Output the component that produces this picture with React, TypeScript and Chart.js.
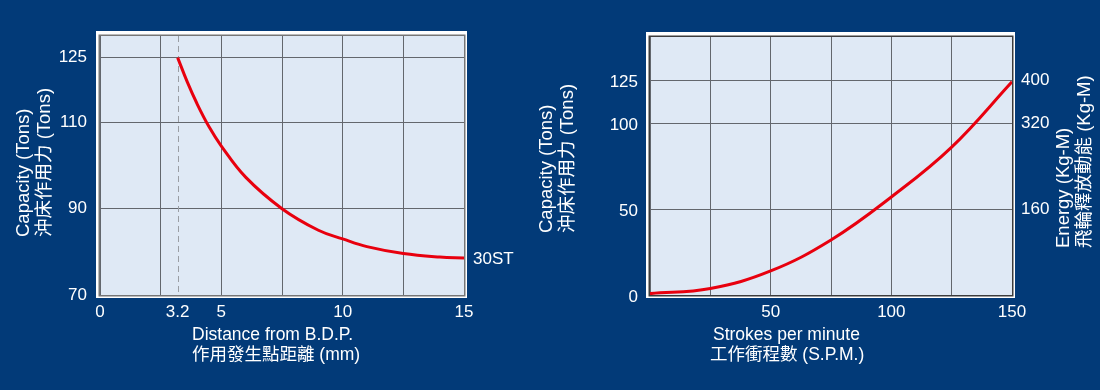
import React, { useEffect, useRef } from 'react';
import { Chart, registerables } from 'chart.js';
Chart.register(...registerables);

// ---------- data: left chart (capacity vs distance from B.D.P.) ----------
const distanceMm = [3.2, 3.6, 4, 4.5, 5, 6, 7.5, 9, 10, 11, 12.5, 14, 15];
const capacityByDistance = [125, 119.3, 114.3, 108.9, 104.5, 97.3, 90, 85, 83, 81.2, 79.6, 78.8, 78.6];
const leftXGridValues = [0, 2.5, 3.2, 5, 7.5, 10, 12.5, 15];
const leftXTickLabels = [0, 3.2, 5, 10, 15];
const leftYTicks = [70, 90, 110, 125];
const ratedPoint = 3.2;
const modelLabel = '30ST';

// ---------- data: right chart (capacity / energy vs strokes per minute) ----------
const strokesPerMinute = [0, 25, 50, 75, 100, 125, 150];
const capacityBySpm = [0.8, 3.8, 14, 32, 57, 86, 124];
const rightXGridValues = [0, 25, 50, 75, 100, 125, 150];
const rightXTickLabels = [50, 100, 150];
const rightYTicks = [0, 50, 100, 125];
const energyTicks = [160, 320, 400];
const energyPerTon = 3.2; // 125 Tons <-> 400 Kg-M

// ---------- text ----------
const leftYTitle = ['Capacity (Tons)', '沖床作用力 (Tons)'];
const leftXTitle = ['Distance from B.D.P.', '作用發生點距離 (mm)'];
const rightYTitle = ['Capacity (Tons)', '沖床作用力 (Tons)'];
const rightY2Title = ['Energy (Kg-M)', '飛輪釋放動能 (Kg-M)'];
const rightXTitle = ['Strokes per minute', '工作衝程數 (S.P.M.)'];

// ---------- style ----------
const BG = '#023a78';
const PLOT_BG = '#dfe9f5';
const GRID = '#63676d';
const RED = '#e8000e';
const WHITE = '#ffffff';
const FONT = "'Liberation Sans', Arial, 'Noto Sans CJK TC', sans-serif";
const FONT_SIZE = 17;
const X_TITLE_SIZE = 17.5;
const Y_TITLE_SIZE = 18.5;

type TextItem = { t: string; x: number; y: number; rot?: boolean };

const decorPlugin = {
  id: 'decor',
  beforeDraw(chart: any) {
    const { ctx, chartArea: a } = chart;
    ctx.save();
    ctx.fillStyle = WHITE;
    ctx.fillRect(a.left - 4, a.top - 5, a.right - a.left + 7, a.bottom - a.top + 8);
    ctx.fillStyle = PLOT_BG;
    ctx.fillRect(a.left, a.top, a.right - a.left, a.bottom - a.top);
    ctx.restore();
  },
  beforeDatasetsDraw(chart: any, _args: any, o: any) {
    const { ctx, chartArea: a } = chart;
    ctx.save();
    if (o.dashX != null) {
      const px = chart.scales.x.getPixelForValue(o.dashX);
      ctx.strokeStyle = '#9a9ea4';
      ctx.lineWidth = 1;
      ctx.setLineDash([6, 4]);
      ctx.beginPath();
      ctx.moveTo(Math.round(px) + 0.5, a.top);
      ctx.lineTo(Math.round(px) + 0.5, a.bottom);
      ctx.stroke();
      ctx.setLineDash([]);
    }
    ctx.strokeStyle = o.borderColor;
    ctx.lineWidth = 1.5;
    ctx.strokeRect(a.left - 0.75, a.top - 0.75, a.right - a.left + 1.5, a.bottom - a.top + 1.5);
    ctx.restore();
  },
  afterDraw(chart: any, _args: any, o: any) {
    const { ctx } = chart;
    ctx.save();
    ctx.fillStyle = WHITE;
    ctx.textAlign = 'left';
    ctx.textBaseline = 'middle';
    (o.texts as TextItem[]).forEach((it) => {
      if (it.rot) {
        ctx.font = `${Y_TITLE_SIZE}px ${FONT}`;
        ctx.save();
        ctx.translate(it.x, it.y);
        ctx.rotate(-Math.PI / 2);
        ctx.fillText(it.t, 0, 0);
        ctx.restore();
      } else {
        ctx.font = `${X_TITLE_SIZE}px ${FONT}`;
        ctx.fillText(it.t, it.x, it.y);
      }
    });
    if (o.endLabel) {
      ctx.font = `${FONT_SIZE}px ${FONT}`;
      const ds = chart.data.datasets[0].data;
      const last = ds[ds.length - 1];
      const px = chart.scales.x.getPixelForValue(last.x);
      const py = chart.scales.y.getPixelForValue(last.y);
      ctx.fillText(o.endLabel, px + 9, py + 1);
    }
    ctx.restore();
  },
};

const tickFont = { family: FONT, size: FONT_SIZE };

function leftConfig(): any {
  return {
    type: 'line',
    data: {
      datasets: [
        {
          data: distanceMm.map((x, i) => ({ x, y: capacityByDistance[i] })),
          borderColor: RED,
          borderWidth: 3,
          pointRadius: 0,
          fill: false,
          tension: 0.4,
        },
      ],
    },
    options: {
      responsive: false,
      animation: false,
      devicePixelRatio: 1,
      layout: { padding: { left: 0, right: 56, top: 36, bottom: 0 } },
      plugins: {
        legend: { display: false },
        tooltip: { enabled: false },
        decor: {
          borderColor: '#767676',
          dashX: ratedPoint,
          endLabel: modelLabel,
          texts: [
            { t: leftYTitle[0], x: 23.5, y: 237, rot: true },
            { t: leftYTitle[1], x: 45, y: 237, rot: true },
            { t: leftXTitle[0], x: 192, y: 335 },
            { t: leftXTitle[1], x: 192, y: 355 },
          ],
        },
      },
      scales: {
        x: {
          type: 'linear',
          min: 0,
          max: 15,
          afterBuildTicks: (s: any) => {
            s.ticks = leftXGridValues.map((v) => ({ value: v }));
          },
          afterFit: (s: any) => {
            s.height = 95;
          },
          border: { display: false },
          grid: {
            color: (c: any) => (c.tick && c.tick.value === ratedPoint ? 'rgba(0,0,0,0)' : GRID),
            lineWidth: 1,
            drawTicks: false,
          },
          ticks: {
            color: WHITE,
            font: tickFont,
            padding: 7,
            autoSkip: false,
            maxRotation: 0,
            callback: (v: number) => (leftXTickLabels.includes(v) ? String(v) : ''),
          },
        },
        y: {
          type: 'linear',
          min: 70,
          max: 130,
          afterBuildTicks: (s: any) => {
            s.ticks = leftYTicks.map((v) => ({ value: v }));
          },
          afterFit: (s: any) => {
            s.width = 100;
          },
          border: { display: false },
          grid: { color: GRID, lineWidth: 1, drawTicks: false },
          ticks: {
            color: WHITE,
            font: tickFont,
            padding: 13,
            autoSkip: false,
            callback: (v: number) => String(v),
          },
        },
      },
    },
    plugins: [decorPlugin],
  };
}

function rightConfig(): any {
  return {
    type: 'line',
    data: {
      datasets: [
        {
          data: strokesPerMinute.map((x, i) => ({ x, y: capacityBySpm[i] })),
          borderColor: RED,
          borderWidth: 3,
          pointRadius: 0,
          fill: false,
          tension: 0.4,
          yAxisID: 'y',
        },
      ],
    },
    options: {
      responsive: false,
      animation: false,
      devicePixelRatio: 1,
      layout: { padding: { left: 0, right: 0, top: 37, bottom: 0 } },
      plugins: {
        legend: { display: false },
        tooltip: { enabled: false },
        decor: {
          borderColor: '#3c3c3c',
          texts: [
            { t: rightYTitle[0], x: 27, y: 233, rot: true },
            { t: rightYTitle[1], x: 48, y: 233, rot: true },
            { t: rightY2Title[0], x: 543.5, y: 248, rot: true },
            { t: rightY2Title[1], x: 564.5, y: 248, rot: true },
            { t: rightXTitle[0], x: 193, y: 335 },
            { t: rightXTitle[1], x: 190, y: 355 },
          ],
        },
      },
      scales: {
        x: {
          type: 'linear',
          min: 0,
          max: 150,
          afterBuildTicks: (s: any) => {
            s.ticks = rightXGridValues.map((v) => ({ value: v }));
          },
          afterFit: (s: any) => {
            s.height = 95;
          },
          border: { display: false },
          grid: { color: GRID, lineWidth: 1, drawTicks: false },
          ticks: {
            color: WHITE,
            font: tickFont,
            padding: 7,
            autoSkip: false,
            maxRotation: 0,
            callback: (v: number) => (rightXTickLabels.includes(v) ? String(v) : ''),
          },
        },
        y: {
          type: 'linear',
          position: 'left',
          min: 0,
          max: 150,
          afterBuildTicks: (s: any) => {
            s.ticks = rightYTicks.map((v) => ({ value: v }));
          },
          afterFit: (s: any) => {
            s.width = 130;
          },
          border: { display: false },
          grid: { color: GRID, lineWidth: 1, drawTicks: false },
          ticks: {
            color: WHITE,
            font: tickFont,
            padding: 12,
            labelOffset: 2,
            autoSkip: false,
            callback: (v: number) => String(v),
          },
        },
        y2: {
          type: 'linear',
          position: 'right',
          min: 0,
          max: 150 * energyPerTon,
          afterBuildTicks: (s: any) => {
            s.ticks = energyTicks.map((v) => ({ value: v }));
          },
          afterFit: (s: any) => {
            s.width = 88;
          },
          border: { display: false },
          grid: { drawOnChartArea: false, drawTicks: false },
          ticks: {
            color: WHITE,
            font: tickFont,
            padding: 9,
            autoSkip: false,
            callback: (v: number) => String(v),
          },
        },
      },
    },
    plugins: [decorPlugin],
  };
}

export default function App() {
  const leftRef = useRef<HTMLCanvasElement>(null);
  const rightRef = useRef<HTMLCanvasElement>(null);

  useEffect(() => {
    const c1 = new Chart(leftRef.current as HTMLCanvasElement, leftConfig());
    const c2 = new Chart(rightRef.current as HTMLCanvasElement, rightConfig());
    return () => {
      c1.destroy();
      c2.destroy();
    };
  }, []);

  return (
    <div
      style={{
        position: 'fixed',
        left: 0,
        top: 0,
        width: 1100,
        height: 390,
        background: BG,
        overflow: 'hidden',
      }}
    >
      <canvas
        ref={leftRef}
        width={520}
        height={390}
        style={{ position: 'absolute', left: 0, top: 0, width: 520, height: 390 }}
      />
      <canvas
        ref={rightRef}
        width={580}
        height={390}
        style={{ position: 'absolute', left: 520, top: 0, width: 580, height: 390 }}
      />
    </div>
  );
}
